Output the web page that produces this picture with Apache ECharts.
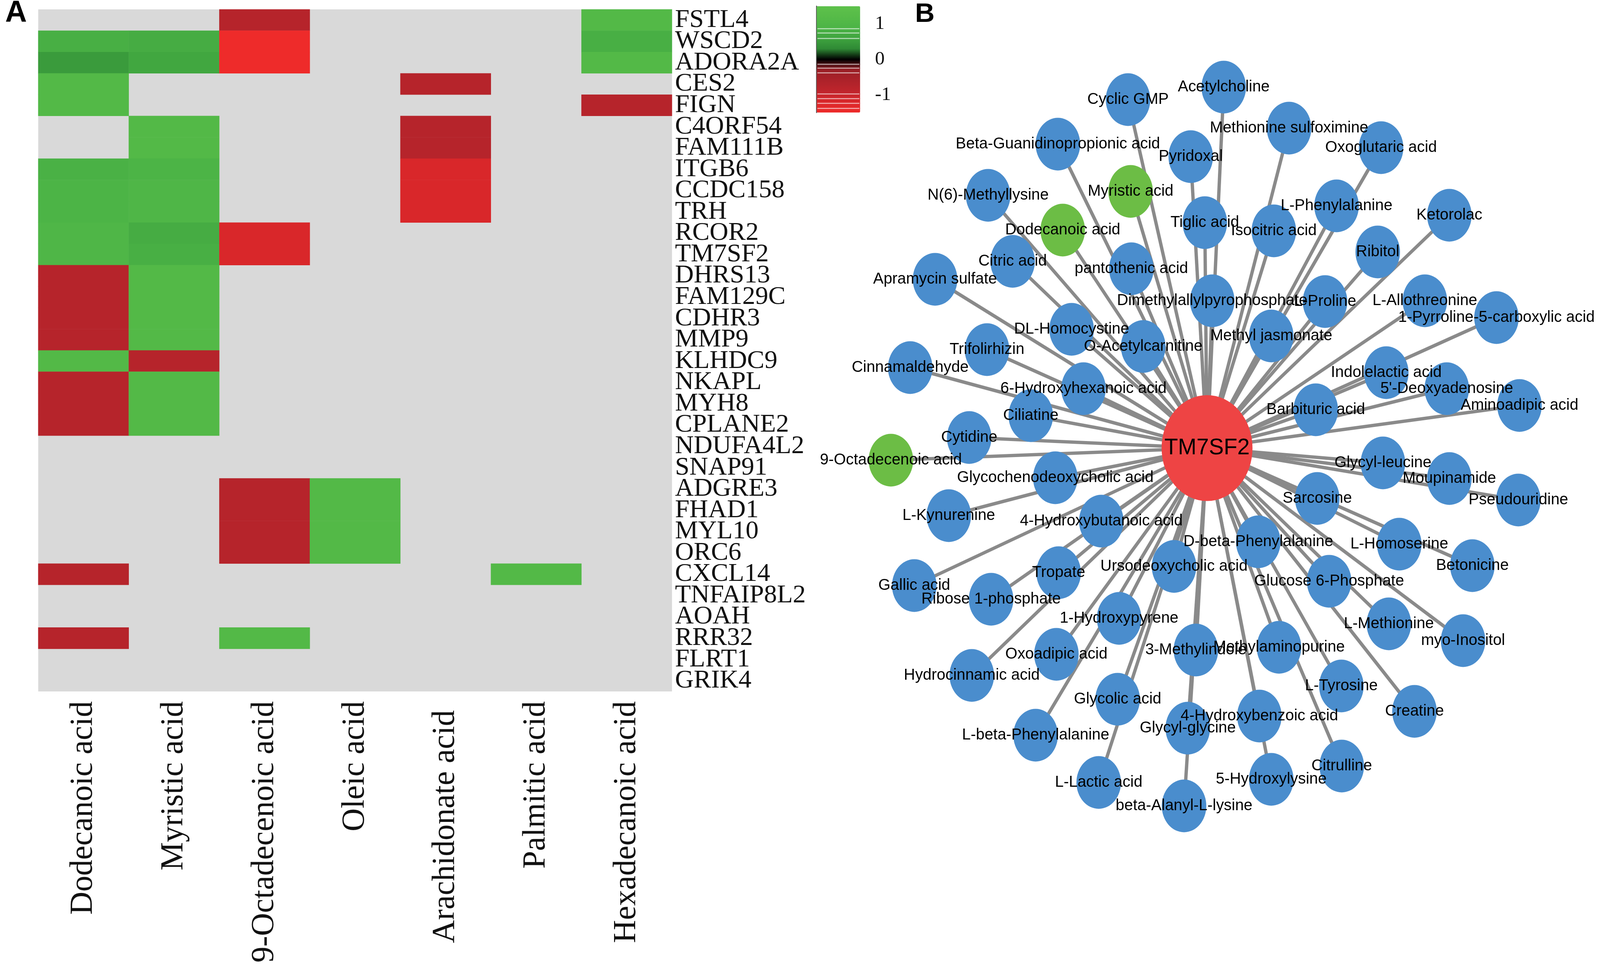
<!DOCTYPE html>
<html><head><meta charset="utf-8">
<script src="https://cdn.jsdelivr.net/npm/echarts@6/dist/echarts.min.js"></script>
<style>html,body{margin:0;padding:0;background:#fff;overflow:hidden;width:100%;height:100%}#c{width:100vw;height:100vh}</style>
</head><body><div id="c"></div>
<script>
// ---------- Panel A data ----------
const genes = ['FSTL4','WSCD2','ADORA2A','CES2','FIGN','C4ORF54','FAM111B','ITGB6','CCDC158','TRH','RCOR2','TM7SF2','DHRS13','FAM129C','CDHR3','MMP9','KLHDC9','NKAPL','MYH8','CPLANE2','NDUFA4L2','SNAP91','ADGRE3','FHAD1','MYL10','ORC6','CXCL14','TNFAIP8L2','AOAH','RRR32','FLRT1','GRIK4'];
const acids = ['Dodecanoic acid','Myristic acid','9-Octadecenoic acid','Oleic acid','Arachidonate acid','Palmitic acid','Hexadecanoic acid'];
const _ = null;
const dodecanoic    = [_,0.8,0.5,1.1,1.1,_,_,0.85,0.9,0.9,1.0,1.0,-0.75,-0.75,-0.75,-0.75,1.1,-0.75,-0.75,-0.75,_,_,_,_,_,_,-0.75,_,_,-0.75,_,_];
const myristic      = [_,0.75,0.65,_,_,1.1,1.1,0.9,1.0,1.0,0.75,0.8,1.1,1.1,1.1,1.1,-0.75,1.1,1.1,1.1,_,_,_,_,_,_,_,_,_,_,_,_];
const octadecenoic  = [-0.75,-1.5,-1.5,_,_,_,_,_,_,_,-1.2,-1.2,_,_,_,_,_,_,_,_,_,_,-0.75,-0.75,-0.75,-0.75,_,_,_,1.1,_,_];
const oleic         = [_,_,_,_,_,_,_,_,_,_,_,_,_,_,_,_,_,_,_,_,_,_,1.1,1.1,1.1,1.1,_,_,_,_,_,_];
const arachidonate  = [_,_,_,-0.75,_,-0.75,-0.75,-1.2,-1.2,-1.2,_,_,_,_,_,_,_,_,_,_,_,_,_,_,_,_,_,_,_,_,_,_];
const palmitic      = [_,_,_,_,_,_,_,_,_,_,_,_,_,_,_,_,_,_,_,_,_,_,_,_,_,_,1.1,_,_,_,_,_];
const hexadecanoic  = [1.1,0.8,1.1,_,-0.75,_,_,_,_,_,_,_,_,_,_,_,_,_,_,_,_,_,_,_,_,_,_,_,_,_,_,_];
const columns = [dodecanoic, myristic, octadecenoic, oleic, arachidonate, palmitic, hexadecanoic];
const colorbarTicks = [-1, -0.5, 0, 0.5, 1];
const colorbarLabels = [-1, 0, 1];

// ---------- Panel B data ----------
const hub = 'TM7SF2';
const hubXY = [3253, 1147];
const metabolites = ['Cyclic GMP','Acetylcholine','Beta-Guanidinopropionic acid','Methionine sulfoximine','Oxoglutaric acid','Pyridoxal','Myristic acid','N(6)-Methyllysine','L-Phenylalanine','Ketorolac','Dodecanoic acid','Tiglic acid','Isocitric acid','Ribitol','Citric acid','pantothenic acid','Apramycin sulfate','Dimethylallylpyrophosphate','L-Proline','L-Allothreonine','1-Pyrroline-5-carboxylic acid','DL-Homocystine','Methyl jasmonate','O-Acetylcarnitine','Trifolirhizin','Cinnamaldehyde','Indolelactic acid',"5'-Deoxyadenosine",'Aminoadipic acid','6-Hydroxyhexanoic acid','Ciliatine','Barbituric acid','Cytidine','9-Octadecenoic acid','Glycyl-leucine','Glycochenodeoxycholic acid','Moupinamide','Pseudouridine','Sarcosine','L-Kynurenine','4-Hydroxybutanoic acid','D-beta-Phenylalanine','L-Homoserine','Betonicine','Ursodeoxycholic acid','Gallic acid','Tropate','Glucose 6-Phosphate','Ribose 1-phosphate','1-Hydroxypyrene','L-Methionine','myo-Inositol','Oxoadipic acid','3-Methylindole','Methylaminopurine','Hydrocinnamic acid','L-Tyrosine','Glycolic acid','Creatine','4-Hydroxybenzoic acid','Glycyl-glycine','L-beta-Phenylalanine','Citrulline','5-Hydroxylysine','L-Lactic acid','beta-Alanyl-L-lysine'];
const metX = [3040,3298,2851,3474,3722,3209,3047,2663,3602,3906,2864,3247,3433,3713,2729,3049,2520,3267,3571,3840,4033,2888,3426,3081,2660,2453,3736,3899,4095,2920,2778,3546,2612,2401,3727,2844,3906,4092,3550,2557,2968,3391,3771,3968,3164,2464,2853,3582,2671,3016,3743,3943,2847,3223,3447,2619,3615,3012,3812,3394,3201,2791,3616,3426,2961,3191];
const metY = [255,223,369,328,378,401,490,500,527,551,589,570,591,645,669,688,715,770,772,770,813,843,860,887,895,941,954,995,1038,995,1064,1049,1120,1178,1185,1223,1225,1280,1276,1320,1334,1387,1393,1448,1450,1499,1466,1488,1534,1583,1597,1640,1675,1664,1657,1729,1756,1790,1821,1833,1864,1882,1961,1995,2003,2063];
const fattyAcidNodes = ['Myristic acid','Dodecanoic acid','9-Octadecenoic acid'];

// ---------- styles (layout designed on a 4312 x 2501 canvas, scaled to the viewport) ----------
const scaleColors = ['#ee2b2a','#d9272a','#bf252c','#ad222a','#9a1f26','#000000','#2f8a35','#3fa43f','#4cb446','#56bb48','#5ec14b'];
const xLabelShift = [56, 50, 13, 28, 28, 0, 4];
const xLabelDrop  = [0, 0, 0, 0, 24, 0, 0];
const stripeRows  = [72, 83, 97, 163, 173, 185, 239, 251, 263, 276];

const el = document.getElementById('c');
const W = el.clientWidth || window.innerWidth, H = el.clientHeight || window.innerHeight;
const sx = W / 4312, sy = H / 2501, sf = Math.min(sx, sy);
const X = v => v * sx, Y = v => v * sy, F = v => v * sf;

const heatData = [];
columns.forEach((col, ci) => col.forEach((v, ri) => { if (v !== null) heatData.push([ci, ri, v]); }));

const nodes = [{name: hub, value: hubXY, symbolSize: [X(245), Y(271)], itemStyle: {color: '#ee4444'},
  label: {fontSize: F(60)}}];
metabolites.forEach((m, i) => nodes.push({
  name: m, value: [metX[i], metY[i]],
  itemStyle: {color: fattyAcidNodes.includes(m) ? '#6cbd45' : '#4a8dcd'}
}));
const links = metabolites.map(m => ({source: hub, target: m}));

const stripes = stripeRows.map(r => ({type: 'rect', z: 100, silent: true,
  shape: {x: X(2203), y: Y(r), width: X(113), height: Math.max(1, Y(3))},
  style: {fill: 'rgba(255,255,255,0.55)'}}));

const chart = echarts.init(el, null, {renderer: 'canvas'});
chart.setOption({
  animation: false,
  backgroundColor: '#ffffff',
  graphic: [
    {type: 'text', left: X(14), top: Y(-4), style: {text: 'A', font: 'bold ' + F(81) + 'px "Liberation Sans"', fill: '#000'}},
    {type: 'text', left: X(2466), top: Y(2), style: {text: 'B', font: 'bold ' + F(73) + 'px "Liberation Sans"', fill: '#000'}}
  ].concat(stripes),
  grid: [
    {left: X(103), top: Y(24), width: X(1708), height: Y(1746), show: true, backgroundColor: '#d9d9d9', borderWidth: 0},
    {left: X(2201), top: Y(16), width: X(117), height: Y(272), show: false},
    {left: 0, top: 0, width: W, height: H, show: false}
  ],
  xAxis: [
    {gridIndex: 0, type: 'category', position: 'bottom',
     data: acids.map((a, i) => ({value: a, textStyle: {padding: [0, F(xLabelDrop[i]), F(2 * xLabelShift[i]), 0]}})),
     axisLine: {show: false}, axisTick: {show: false}, splitLine: {show: false},
     axisLabel: {rotate: 90, fontSize: F(86), fontFamily: 'Liberation Serif', color: '#111', margin: Y(25), interval: 0}},
    {gridIndex: 1, type: 'value', show: false, min: 0, max: 1},
    {gridIndex: 2, type: 'value', show: false, min: 0, max: 4312}
  ],
  yAxis: [
    {gridIndex: 0, type: 'category', data: genes, inverse: true, position: 'right',
     axisLine: {show: false}, axisTick: {show: false}, splitLine: {show: false},
     axisLabel: {fontSize: F(70), fontFamily: 'Liberation Serif', color: '#111', margin: X(8), interval: 0, padding: [F(14), 0, 0, 0]}},
    {gridIndex: 1, type: 'value', min: -1.5, max: 1.5, interval: 0.5, position: 'right',
     axisLine: {show: true, lineStyle: {color: '#555', width: F(3)}},
     axisTick: {show: true, length: X(27), lineStyle: {color: '#444', width: F(5)}, customValues: colorbarTicks},
     axisLabel: {customValues: colorbarLabels, fontSize: F(52), fontFamily: 'Liberation Serif', color: '#111', margin: X(40),
       formatter: v => (Number.isInteger(v) && Math.abs(v) <= 1) ? String(v) : ''},
     splitLine: {show: false}},
    {gridIndex: 2, type: 'value', show: false, min: 0, max: 2501, inverse: true}
  ],
  visualMap: {
    type: 'continuous', min: -1.5, max: 1.5, seriesIndex: 0, calculable: false, show: true,
    orient: 'vertical', left: X(2201), top: Y(16), itemWidth: X(117), itemHeight: Y(272), padding: 0,
    hoverLink: false, inRange: {color: scaleColors}
  },
  series: [
    {type: 'heatmap', xAxisIndex: 0, yAxisIndex: 0, data: heatData, itemStyle: {borderWidth: 0},
     emphasis: {disabled: true}, silent: true},
    {type: 'graph', coordinateSystem: 'cartesian2d', xAxisIndex: 2, yAxisIndex: 2, layout: 'none',
     data: nodes, links: links, symbol: 'circle', symbolSize: [X(120), Y(135)],
     itemStyle: {color: '#4a8dcd'},
     lineStyle: {color: '#8a8a8a', width: F(9), opacity: 1, curveness: 0},
     label: {show: true, position: 'inside', fontSize: F(42), fontFamily: 'Liberation Sans', color: '#000'},
     emphasis: {disabled: true}, silent: true}
  ]
});
</script></body></html>
